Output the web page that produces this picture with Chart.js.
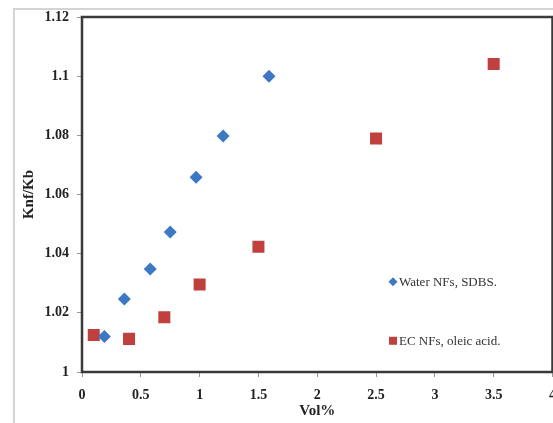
<!DOCTYPE html>
<html>
<head>
<meta charset="utf-8">
<script src="https://cdn.jsdelivr.net/npm/chart.js@4/dist/chart.umd.min.js"></script>
<style>
  html, body { margin: 0; padding: 0; background: #fff; overflow: hidden; width: 553px; height: 423px; }
  .wrap { position: relative; width: 566px; height: 423px; }
  .frame { position: absolute; left: 13px; top: 8px; width: 540px; bottom: 0;
           border-top: 2px solid #d4d4d4; border-left: 2px solid #d4d4d4; }
  canvas { position: absolute; left: 0; top: 0; }
</style>
</head>
<body>
<div class="wrap">
  <div class="frame"></div>
  <canvas id="myChart" width="566" height="423"></canvas>
</div>
<script>
const waterX = [0.19, 0.36, 0.58, 0.75, 0.97, 1.2, 1.59];
const waterY = [1.012, 1.0247, 1.0348, 1.0473, 1.0658, 1.0798, 1.1];
const ecX = [0.1, 0.4, 0.7, 1.0, 1.5, 2.5, 3.5];
const ecY = [1.0125, 1.0112, 1.0185, 1.0296, 1.0423, 1.0789, 1.1041];
const seriesNames = ["Water NFs, SDBS.", "EC NFs, oleic acid."];
const xTicks = [0, 0.5, 1, 1.5, 2, 2.5, 3, 3.5, 4];
const yTicks = [1, 1.02, 1.04, 1.06, 1.08, 1.1, 1.12];

const blue = "#3c78c3";
const red = "#c0403e";

const toPoints = (xs, ys) => xs.map((x, i) => ({ x: x, y: ys[i] }));

const serif = "'Liberation Serif', 'Times New Roman', serif";

// plot frame + legend drawn inside the plot area
const framePlugin = {
  id: "frame",
  afterDatasetsDraw(chart) {
    const ctx = chart.ctx;
    const a = chart.chartArea;
    ctx.save();
    ctx.strokeStyle = "#3a3a3a";
    ctx.lineWidth = 2.5;
    ctx.strokeRect(a.left, a.top, a.right - a.left, a.bottom - a.top);

    const w = a.right - a.left;
    const h = a.bottom - a.top;
    const lx = a.left + w * 0.661;
    const rows = [a.top + h * 0.746, a.top + h * 0.912];
    ctx.font = "13px " + serif;
    ctx.textBaseline = "middle";
    // diamond
    ctx.fillStyle = blue;
    ctx.beginPath();
    ctx.moveTo(lx, rows[0] - 4.5);
    ctx.lineTo(lx + 4.5, rows[0]);
    ctx.lineTo(lx, rows[0] + 4.5);
    ctx.lineTo(lx - 4.5, rows[0]);
    ctx.closePath();
    ctx.fill();
    // square
    ctx.fillStyle = red;
    ctx.fillRect(lx - 4, rows[1] - 4, 8, 8);
    ctx.fillStyle = "#333";
    ctx.fillText(seriesNames[0], lx + 6, rows[0] + 1);
    ctx.fillText(seriesNames[1], lx + 6, rows[1] + 1);
    ctx.restore();
  }
};

new Chart(document.getElementById("myChart"), {
  type: "scatter",
  data: {
    datasets: [
      {
        label: seriesNames[0],
        data: toPoints(waterX, waterY),
        pointStyle: "rectRot",
        pointRadius: 6.5,
        backgroundColor: blue,
        borderColor: blue,
        borderWidth: 0
      },
      {
        label: seriesNames[1],
        data: toPoints(ecX, ecY),
        pointStyle: "rect",
        pointRadius: 8.5,
        backgroundColor: red,
        borderColor: red,
        borderWidth: 0
      }
    ]
  },
  options: {
    responsive: false,
    animation: false,
    events: [],
    layout: { padding: { left: 14, top: 17, right: 1, bottom: 0 } },
    plugins: {
      legend: { display: false },
      tooltip: { enabled: false }
    },
    scales: {
      x: {
        type: "linear",
        min: 0,
        max: 4,
        afterBuildTicks: (scale) => { scale.ticks = xTicks.map(v => ({ value: v })); },
        afterFit: (scale) => { scale.height = 51; },
        grid: { drawOnChartArea: false, drawTicks: true, tickLength: 5, color: "#999" },
        border: { display: false },
        ticks: {
          padding: 10,
          color: "#222",
          font: { family: serif, size: 14, weight: "bold" },
          maxRotation: 0,
          autoSkip: false,
          callback: (v) => String(v)
        },
        title: {
          display: true,
          text: "Vol%",
          color: "#222",
          font: { family: serif, size: 15, weight: "bold" },
          padding: { top: 0, bottom: 3 }
        }
      },
      y: {
        type: "linear",
        min: 1,
        max: 1.12,
        afterBuildTicks: (scale) => { scale.ticks = yTicks.map(v => ({ value: v })); },
        afterFit: (scale) => { scale.width = 68; },
        grid: { drawOnChartArea: false, drawTicks: true, tickLength: 5, color: "#999" },
        border: { display: false },
        ticks: {
          padding: 8,
          color: "#222",
          font: { family: serif, size: 14, weight: "bold" },
          autoSkip: false,
          callback: (v) => String(v)
        },
        title: {
          display: true,
          text: "Knf/Kb",
          color: "#222",
          font: { family: serif, size: 15, weight: "bold" },
          padding: { top: 6, bottom: 0 }
        }
      }
    }
  },
  plugins: [framePlugin]
});
</script>
</body>
</html>
